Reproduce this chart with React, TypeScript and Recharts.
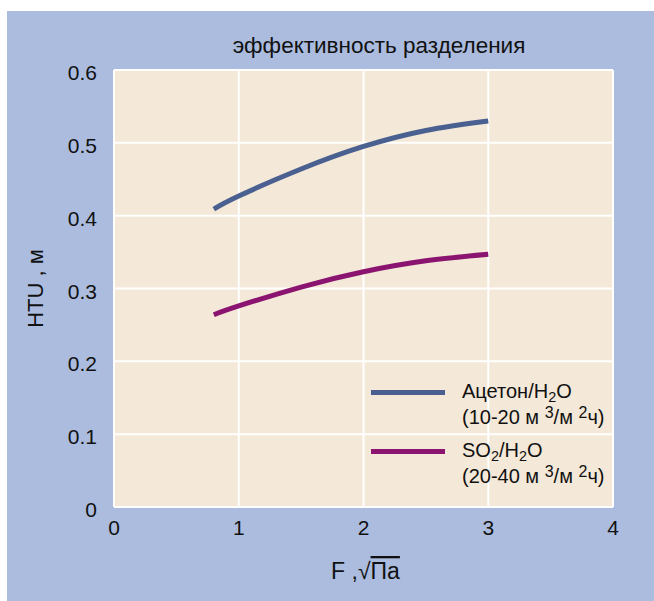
import { CartesianGrid, Legend, Line, LineChart, XAxis, YAxis } from "recharts";

const xTicks = [0, 1, 2, 3, 4];
const yTicks = [0, 0.1, 0.2, 0.3, 0.4, 0.5, 0.6];
const flowF = [0.8, 1, 1.5, 2, 2.5, 3];
const acetoneHtu = [0.409, 0.427, 0.464, 0.495, 0.517, 0.53];
const so2Htu = [0.264, 0.276, 0.302, 0.323, 0.338, 0.347];

const data = flowF.map((f, i) => ({ f, acetone: acetoneHtu[i], so2: so2Htu[i] }));

const FONT = '"Liberation Sans", Arial, Helvetica, sans-serif';
const BLUE = "#4a6090";
const PURPLE = "#8a1470";
const INK = "#111";

function YTick({ x, y, payload }: any) {
  return (
    <text x={x - 17} y={y + 10} textAnchor="end" fontSize={21} fontFamily={FONT} fill={INK}>
      {payload.value}
    </text>
  );
}

function XTick({ x, y, payload }: any) {
  return (
    <text x={x} y={y + 28} textAnchor="middle" fontSize={21} fontFamily={FONT} fill={INK}>
      {payload.value}
    </text>
  );
}

function YTitle({ viewBox }: any) {
  const cx = viewBox.x - 19;
  const cy = viewBox.y + viewBox.height / 2;
  return (
    <text
      x={cx}
      y={cy}
      dy={8}
      transform={`rotate(-90 ${cx} ${cy})`}
      textAnchor="middle"
      fontSize={22}
      fontFamily={FONT}
      fill={INK}
    >
      HTU , м
    </text>
  );
}

function XTitle({ viewBox }: any) {
  const cx = viewBox.x + viewBox.width / 2 + 2;
  return (
    <text x={cx} y={viewBox.y + 72} textAnchor="middle" fontSize={23} fontFamily={FONT} fill={INK}>
      F ,√<tspan style={{ textDecoration: "overline" }}>Па</tspan>
    </text>
  );
}

const sub = { fontSize: "0.72em", lineHeight: 0, verticalAlign: "-0.25em" } as const;
const sup = { fontSize: "0.8em", lineHeight: 0, verticalAlign: "0.35em" } as const;

function LegendBox() {
  const rows = [
    {
      color: BLUE,
      top: (
        <>
          Ацетон/H<span style={sub}>2</span>O
        </>
      ),
      bottom: (
        <>
          (10-20 м <span style={sup}>3</span>/м <span style={sup}>2</span>ч)
        </>
      ),
    },
    {
      color: PURPLE,
      top: (
        <>
          SO<span style={sub}>2</span>/H<span style={sub}>2</span>O
        </>
      ),
      bottom: (
        <>
          (20-40 м <span style={sup}>3</span>/м <span style={sup}>2</span>ч)
        </>
      ),
    },
  ];
  return (
    <div style={{ fontFamily: FONT, fontSize: 20, lineHeight: "26px", color: INK }}>
      {rows.map((r, i) => (
        <div key={i} style={{ display: "flex", alignItems: "flex-start", marginBottom: 7 }}>
          <div style={{ width: 74, height: 5, background: r.color, marginTop: 11.5 }} />
          <div style={{ marginLeft: 17, whiteSpace: "nowrap" }}>
            <div>{r.top}</div>
            <div>{r.bottom}</div>
          </div>
        </div>
      ))}
    </div>
  );
}

export default function App() {
  return (
    <div
      style={{
        position: "absolute",
        left: 7,
        top: 11,
        width: 647,
        height: 590,
        background: "#abbcde",
      }}
    >
      <div
        style={{
          position: "absolute",
          left: 0,
          top: 22,
          width: 744,
          textAlign: "center",
          fontFamily: FONT,
          fontSize: 22.5,
          color: INK,
          whiteSpace: "nowrap",
        }}
      >
        эффективность разделения
      </div>
      <LineChart width={647} height={590} data={data} margin={{ top: 59, right: 41, bottom: 54, left: 47 }}>
        <CartesianGrid fill="#f4e8d8" stroke="#ffffff" strokeWidth={2} />
        <XAxis
          type="number"
          dataKey="f"
          domain={[0, 4]}
          ticks={xTicks}
          axisLine={false}
          tickLine={false}
          tickSize={0}
          tickMargin={0}
          height={40}
          tick={<XTick />}
          interval={0}
          label={{ content: <XTitle /> }}
        />
        <YAxis
          type="number"
          domain={[0, 0.6]}
          ticks={yTicks}
          axisLine={false}
          tickLine={false}
          tickSize={0}
          tickMargin={0}
          width={60}
          tick={<YTick />}
          interval={0}
          label={{ content: <YTitle /> }}
        />
        <Legend
          layout="horizontal"
          verticalAlign="middle"
          align="center"
          content={<LegendBox />}
          wrapperStyle={{ left: 364, top: 367, width: 260 }}
        />
        <Line
          type="natural"
          dataKey="acetone"
          stroke={BLUE}
          strokeWidth={5}
          dot={false}
          activeDot={false}
          isAnimationActive={false}
        />
        <Line
          type="natural"
          dataKey="so2"
          stroke={PURPLE}
          strokeWidth={5}
          dot={false}
          activeDot={false}
          isAnimationActive={false}
        />
      </LineChart>
    </div>
  );
}
